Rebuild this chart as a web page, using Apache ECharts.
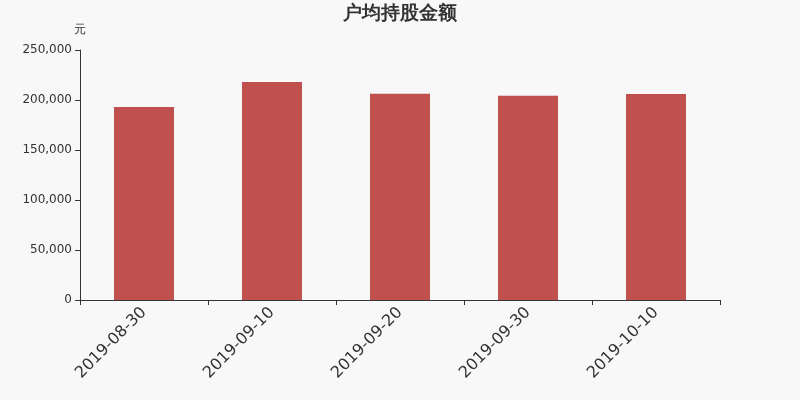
<!DOCTYPE html>
<html><head><meta charset="utf-8">
<script src="https://cdn.jsdelivr.net/npm/echarts@6/dist/echarts.min.js"></script>
<style>html,body{margin:0;padding:0;background:#f8f8f8}#c{width:800px;height:400px}</style>
</head><body><div id="c"></div>
<script>
const categories = ['2019-08-30','2019-09-10','2019-09-20','2019-09-30','2019-10-10'];
const values = [193000, 218000, 206300, 204300, 206000];
const chart = echarts.init(document.getElementById('c'));
chart.setOption({
  backgroundColor: '#f8f8f8',
  animation: false,
  textStyle: {fontFamily: 'DejaVu Sans'},
  title: {text: '户均持股金额', left: 'center', top: 0, textStyle: {fontSize: 19, fontWeight: 'bold', color: '#333', fontFamily: 'DejaVu Sans'}},
  grid: {left: 80, right: 80, top: 50, bottom: 100},
  xAxis: {type: 'category', data: categories,
    axisLine: {lineStyle: {color: '#333'}}, axisTick: {show: true, interval: 0, lineStyle: {color: '#333'}},
    axisLabel: {rotate: 45, fontSize: 16, color: '#333', margin: 10, fontFamily: 'DejaVu Sans'}},
  yAxis: {type: 'value', min: 0, max: 250000, interval: 50000, name: '元',
    nameGap: 14, nameTextStyle: {color: '#333', fontSize: 12, align: 'center', fontFamily: 'DejaVu Sans'},
    splitLine: {show: false},
    axisLine: {show: true, lineStyle: {color: '#333'}}, axisTick: {show: true, lineStyle: {color: '#333'}},
    axisLabel: {color: '#333', fontSize: 12, fontFamily: 'DejaVu Sans', formatter: v => v.toLocaleString('en-US')}},
  series: [{type: 'bar', data: values, barWidth: 60, itemStyle: {color: '#c0504d'}}]
});
</script></body></html>
